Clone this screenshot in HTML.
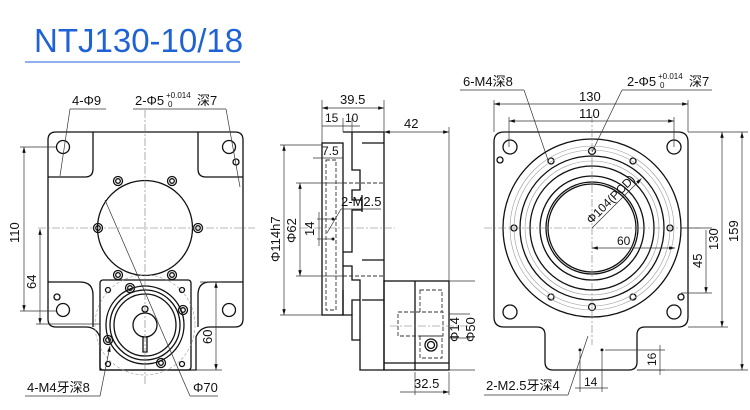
<!DOCTYPE html>
<html><head><meta charset="utf-8"><style>
html,body{margin:0;padding:0;background:#fff;width:750px;height:410px;overflow:hidden}
svg{display:block}
text{font-family:"Liberation Sans","Noto Sans CJK SC",sans-serif;fill:#111;font-size:13px}
.o{fill:none;stroke:#111;stroke-width:1.3}
.d{fill:none;stroke:#333;stroke-width:0.7}
.c{fill:none;stroke:#777;stroke-width:0.6;stroke-dasharray:8 2 2 2}
.h{fill:none;stroke:#333;stroke-width:0.9;stroke-dasharray:4 2}
.f{fill:none;stroke:#999;stroke-width:0.6}
</style></head><body>
<svg width="750" height="410" viewBox="0 0 750 410" xmlns="http://www.w3.org/2000/svg">
<defs><marker id="a" viewBox="0 0 10 6" refX="10" refY="3" markerWidth="9" markerHeight="5" orient="auto-start-reverse"><path d="M0,0L10,3L0,6z" fill="#111"/></marker></defs>
<text x="34" y="52" style="font-size:33px;fill:#1f62d6">NTJ130-10/18</text>
<line x1="25" y1="62" x2="240" y2="62" stroke="#1f62d6" stroke-width="1"/>

<!-- LEFT VIEW -->
<path class="o" d="M56,132H235Q243,132 243,140V319Q243,327 235,327H210Q200,327 196,337V370H100V337Q96,327 86,327H56Q48,327 48,319V140Q48,132 56,132Z"/>
<path class="o" d="M48,177H85Q93,177 93,169V132M243,177H206Q198,177 198,169V132M48,282H80Q93,282 93,295V327M243,282H210Q198,282 198,295V327"/>
<rect class="o" x="100" y="280" width="91" height="90" rx="3"/>
<circle class="o" cx="145" cy="228" r="47.5"/>
<g class="o"><circle cx="118" cy="181" r="4.5"/><circle cx="172" cy="181" r="4.5"/><circle cx="98" cy="228" r="4.5"/><circle cx="198" cy="228" r="4.5"/><circle cx="118" cy="275" r="4.5"/><circle cx="172" cy="275" r="4.5"/>
<circle cx="118" cy="181" r="2.3"/><circle cx="172" cy="181" r="2.3"/><circle cx="98" cy="228" r="2.3"/><circle cx="198" cy="228" r="2.3"/><circle cx="118" cy="275" r="2.3"/><circle cx="172" cy="275" r="2.3"/>
<circle cx="63" cy="147" r="6.5"/><circle cx="229" cy="147" r="6.5"/><circle cx="236" cy="162" r="3"/><circle cx="63" cy="310" r="6.5"/><circle cx="229" cy="310" r="6.5"/><circle cx="57" cy="297" r="3"/>
<circle cx="108" cy="290" r="2.5"/><circle cx="182" cy="290" r="2.5"/><circle cx="108" cy="364" r="2.5"/><circle cx="182" cy="364" r="2.5"/>
<circle cx="130" cy="288" r="4.5"/><circle cx="183" cy="310" r="4.5"/><circle cx="108" cy="340" r="4.5"/><circle cx="161" cy="363" r="4.5"/>
<circle cx="130" cy="288" r="2.3"/><circle cx="183" cy="310" r="2.3"/><circle cx="108" cy="340" r="2.3"/><circle cx="161" cy="363" r="2.3"/>
<circle cx="145" cy="325" r="39"/><circle cx="145" cy="325" r="35"/><circle cx="145" cy="325" r="31"/><circle cx="145" cy="325" r="12"/><circle cx="145" cy="309" r="3"/>
<path d="M143,336V352H147V336"/></g>
<circle class="f" cx="145" cy="325" r="50" stroke-dasharray="3 2"/>
<line class="c" x1="145" y1="110" x2="145" y2="385"/><line class="c" x1="38" y1="228" x2="255" y2="228"/>
<line class="d" x1="20" y1="147" x2="56" y2="147"/><line class="d" x1="20" y1="311" x2="56" y2="311"/><line class="d" x1="36" y1="324" x2="100" y2="324"/>
<line class="d" x1="24" y1="147" x2="24" y2="311" marker-start="url(#a)" marker-end="url(#a)"/>
<line class="d" x1="40" y1="229" x2="40" y2="324" marker-start="url(#a)" marker-end="url(#a)"/>
<line class="d" x1="216" y1="282" x2="216" y2="370" marker-start="url(#a)" marker-end="url(#a)"/>
<line class="d" x1="191" y1="370" x2="222" y2="370"/><line class="d" x1="200" y1="282" x2="222" y2="282"/>
<text transform="translate(19,243) rotate(-90)">110</text>
<text transform="translate(36,289) rotate(-90)">64</text>
<text transform="translate(212,344) rotate(-90)">60</text>
<text x="72" y="105">4-Φ9</text><line class="d" x1="70" y1="109" x2="106" y2="109"/><line class="d" x1="70" y1="109" x2="60" y2="176"/>
<text x="135" y="105">2-Φ5</text><text x="166" y="98" style="font-size:8px">+0.014</text><text x="168" y="107" style="font-size:8px">0</text><text x="197" y="105">深7</text>
<line class="d" x1="133" y1="109" x2="226" y2="109"/><line class="d" x1="226" y1="109" x2="240" y2="187"/>
<text x="27" y="392">4-M4牙深8</text><line class="d" x1="25" y1="396" x2="100" y2="396"/><line class="d" x1="100" y1="396" x2="110" y2="346" marker-end="url(#a)"/>
<text x="193" y="392">Φ70</text><line class="d" x1="190" y1="396" x2="218" y2="396"/><line class="d" x1="190" y1="396" x2="105" y2="200"/>

<!-- MIDDLE VIEW -->
<g class="o">
<rect x="322" y="143" width="21" height="172"/>
<path d="M343,132H384V370H360V340H352V315H343V290"/>
<path d="M352,132V170H360V190H352V200H362V210H352V252H343"/>
<path d="M343,266H352V280H360V300H352V315M360,300V340"/>
<path d="M362,143H384M362,195V212M362,260H384M362,300H384"/>
<rect x="384" y="281" width="65" height="89"/><line x1="415" y1="281" x2="415" y2="370"/>
<line x1="384" y1="363" x2="449" y2="363"/>
<circle cx="431" cy="345" r="6"/><circle cx="431" cy="345" r="3.5"/>
</g>
<g class="h"><rect x="326" y="160" width="10" height="150"/><rect x="420" y="290" width="22" height="22"/><rect x="398" y="312" width="45" height="24"/><rect x="420" y="336" width="22" height="22"/><line x1="343" y1="183" x2="384" y2="183"/><line x1="343" y1="276" x2="384" y2="276"/></g>
<circle cx="333" cy="219" r="1.5" fill="#111"/><circle cx="333" cy="239" r="1.5" fill="#111"/>
<line class="c" x1="300" y1="228" x2="395" y2="228"/><line class="c" x1="390" y1="326" x2="470" y2="326"/>
<line class="d" x1="322" y1="100" x2="322" y2="143"/><line class="d" x1="384" y1="100" x2="384" y2="132"/><line class="d" x1="343" y1="118" x2="343" y2="132"/><line class="d" x1="352" y1="118" x2="352" y2="132"/><line class="d" x1="449" y1="127" x2="449" y2="281"/>
<line class="d" x1="322" y1="108" x2="384" y2="108" marker-start="url(#a)" marker-end="url(#a)"/>
<line class="d" x1="322" y1="126" x2="360" y2="126"/>
<line class="d" x1="384" y1="132" x2="449" y2="132" marker-start="url(#a)" marker-end="url(#a)"/>
<text x="340" y="104">39.5</text><text x="325" y="122" style="font-size:12px">15</text><text x="345" y="122" style="font-size:12px">10</text><text x="404" y="128">42</text>
<line class="d" x1="313" y1="158" x2="343" y2="158"/><text x="322" y="155" style="font-size:12px">7.5</text>
<line class="d" x1="280" y1="145" x2="322" y2="145"/><line class="d" x1="280" y1="315" x2="322" y2="315"/>
<line class="d" x1="284" y1="145" x2="284" y2="315" marker-start="url(#a)" marker-end="url(#a)"/>
<line class="d" x1="296" y1="183" x2="343" y2="183"/><line class="d" x1="296" y1="276" x2="343" y2="276"/>
<line class="d" x1="300" y1="183" x2="300" y2="276" marker-start="url(#a)" marker-end="url(#a)"/>
<line class="d" x1="317" y1="219" x2="333" y2="219"/><line class="d" x1="317" y1="239" x2="333" y2="239"/><line class="d" x1="319" y1="212" x2="319" y2="246"/>
<text transform="translate(280,262) rotate(-90)">Φ114h7</text>
<text transform="translate(296,243) rotate(-90)">Φ62</text>
<text transform="translate(314,236) rotate(-90)">14</text>
<text x="341" y="206">2-M2.5</text><line class="d" x1="341" y1="209" x2="381" y2="209"/><line class="d" x1="341" y1="209" x2="327" y2="233"/>
<line class="d" x1="449" y1="314" x2="470" y2="314"/><line class="d" x1="449" y1="338" x2="470" y2="338"/><line class="d" x1="449" y1="281" x2="475" y2="281"/><line class="d" x1="449" y1="370" x2="475" y2="370"/>
<text transform="translate(459,342) rotate(-90)">Φ14</text>
<text transform="translate(475,342) rotate(-90)">Φ50</text>
<line class="d" x1="415" y1="372" x2="415" y2="395"/><line class="d" x1="449" y1="372" x2="449" y2="395"/>
<line class="d" x1="400" y1="392" x2="449" y2="392" marker-end="url(#a)"/>
<text x="414" y="388">32.5</text>

<!-- RIGHT VIEW -->
<path class="o" d="M504,132H678Q688,132 688,142V317Q688,327 678,327H645Q637,327 637,335V362Q637,370 629,370H553Q545,370 545,362V335Q545,327 537,327H504Q494,327 494,317V142Q494,132 504,132Z"/>
<g class="o">
<circle cx="592" cy="228" r="89"/><circle cx="592" cy="228" r="72"/><circle cx="592" cy="228" r="62"/><circle cx="592" cy="228" r="52"/><circle cx="592" cy="228" r="46"/><circle cx="592" cy="228" r="44"/>
<circle cx="510" cy="147" r="7"/><circle cx="674" cy="147" r="7"/><circle cx="510" cy="312" r="7"/><circle cx="674" cy="312" r="7"/><circle cx="500" cy="160" r="3"/><circle cx="681" cy="297" r="3"/>
<circle cx="592" cy="151" r="3.5"/><circle cx="551" cy="161" r="3"/><circle cx="633" cy="161" r="3"/><circle cx="514" cy="228" r="3"/><circle cx="670" cy="228" r="3"/><circle cx="551" cy="297" r="3"/><circle cx="633" cy="297" r="3"/><circle cx="592" cy="307" r="3.5"/>
</g>
<circle class="f" cx="592" cy="228" r="78"/><circle class="f" cx="592" cy="228" r="82"/><circle class="f" cx="592" cy="228" r="67"/>
<circle cx="580" cy="350" r="1.5" fill="#111"/><circle cx="602" cy="350" r="1.5" fill="#111"/>
<line class="c" x1="592" y1="115" x2="592" y2="345"/><line class="c" x1="484" y1="228" x2="700" y2="228"/>
<line class="d" x1="494" y1="100" x2="494" y2="132"/><line class="d" x1="688" y1="100" x2="688" y2="132"/><line class="d" x1="509" y1="117" x2="509" y2="147"/><line class="d" x1="674" y1="117" x2="674" y2="147"/>
<line class="d" x1="494" y1="104" x2="688" y2="104" marker-start="url(#a)" marker-end="url(#a)"/>
<line class="d" x1="509" y1="121" x2="674" y2="121" marker-start="url(#a)" marker-end="url(#a)"/>
<text x="579" y="101">130</text><text x="579" y="118">110</text>
<line class="d" x1="688" y1="132" x2="748" y2="132"/><line class="d" x1="688" y1="327" x2="728" y2="327"/><line class="d" x1="637" y1="370" x2="748" y2="370"/><line class="d" x1="680" y1="228" x2="712" y2="228"/><line class="d" x1="681" y1="293" x2="712" y2="293"/>
<line class="d" x1="742" y1="132" x2="742" y2="370" marker-start="url(#a)" marker-end="url(#a)"/>
<line class="d" x1="722" y1="132" x2="722" y2="327" marker-start="url(#a)" marker-end="url(#a)"/>
<line class="d" x1="706" y1="230" x2="706" y2="293" marker-end="url(#a)"/>
<text transform="translate(738,242) rotate(-90)">159</text>
<text transform="translate(718,250) rotate(-90)">130</text>
<text transform="translate(702,268) rotate(-90)">45</text>
<line class="d" x1="592" y1="248" x2="675" y2="248" marker-start="url(#a)" marker-end="url(#a)"/><text x="617" y="245" style="font-size:12px">60</text>
<line class="d" x1="605" y1="350" x2="665" y2="350"/><line class="d" x1="637" y1="370" x2="665" y2="370"/><line class="d" x1="660" y1="345" x2="660" y2="375"/>
<text transform="translate(656,366) rotate(-90)" style="font-size:12px">16</text>
<line class="d" x1="580" y1="352" x2="580" y2="392"/><line class="d" x1="602" y1="352" x2="602" y2="392"/><line class="d" x1="575" y1="388" x2="608" y2="388"/>
<text x="584" y="386" style="font-size:12px">14</text>
<g transform="translate(592,228) rotate(-45)"><line class="d" x1="0" y1="0" x2="70" y2="0" marker-end="url(#a)"/><text x="2" y="-3" style="font-size:12px">Φ104(PCD)</text></g>
<text x="463" y="86">6-M4深8</text><line class="d" x1="460" y1="90" x2="524" y2="90"/><line class="d" x1="524" y1="90" x2="548" y2="160"/>
<text x="627" y="86">2-Φ5</text><text x="658" y="79" style="font-size:8px">+0.014</text><text x="660" y="88" style="font-size:8px">0</text><text x="689" y="86">深7</text>
<line class="d" x1="622" y1="90" x2="712" y2="90"/><line class="d" x1="622" y1="90" x2="592" y2="152"/>
<text x="486" y="390">2-M2.5牙深4</text><line class="d" x1="484" y1="395" x2="568" y2="395"/><line class="d" x1="568" y1="395" x2="588" y2="336"/>
</svg>
</body></html>
